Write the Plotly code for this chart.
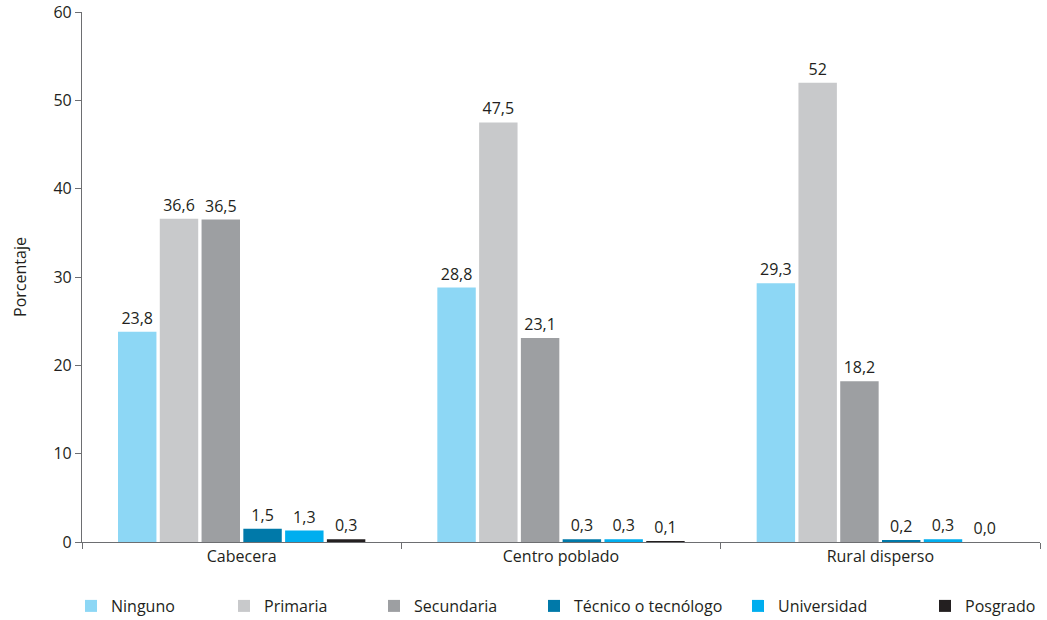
import plotly.graph_objects as go

categories = ["Cabecera", "Centro poblado", "Rural disperso"]
series_names = ["Ninguno", "Primaria", "Secundaria", "Técnico o tecnólogo", "Universidad", "Posgrado"]
ninguno = [23.8, 28.8, 29.3]
primaria = [36.6, 47.5, 52.0]
secundaria = [36.5, 23.1, 18.2]
tecnico = [1.5, 0.3, 0.2]
universidad = [1.3, 0.3, 0.3]
posgrado = [0.3, 0.1, 0.0]
series_values = [ninguno, primaria, secundaria, tecnico, universidad, posgrado]
colors = ["#8DD7F5", "#C8C9CB", "#9D9FA2", "#0079A9", "#00AEEF", "#231F20"]
y_ticks = [0, 10, 20, 30, 40, 50, 60]

def fmt(v):
    if v == int(v) and v >= 10:
        return str(int(v))
    return f"{v:.1f}".replace(".", ",")

# legend symbol left positions in pixels
legend_px = [90, 243, 393, 553, 757, 944]
L, R, T, B = 82, 7, 12, 78
W, H = 1047, 620

fig = go.Figure()
for i, (name, vals, c) in enumerate(zip(series_names, series_values, colors)):
    lg = "legend" if i == 0 else f"legend{i+1}"
    fig.add_trace(go.Bar(
        x=categories, y=vals, name=name, marker_color=c, marker_line_width=0,
        text=[fmt(v) for v in vals], textposition="outside",
        textfont=dict(size=16, color="#231F20"), cliponaxis=False,
        legend=lg, hoverinfo="skip",
    ))

layout_legends = {}
for i, px in enumerate(legend_px):
    key = "legend" if i == 0 else f"legend{i+1}"
    layout_legends[key] = dict(
        xref="container", yref="container",
        x=(px - 19) / W, xanchor="left", y=1 - 606 / H, yanchor="middle",
        orientation="h", font=dict(size=16, color="#231F20"),
        bgcolor="rgba(0,0,0,0)", itemwidth=30, tracegroupgap=0,
    )

fig.update_layout(
    width=W, height=H, barmode="group", bargap=0.215, bargroupgap=0.08,
    margin=dict(l=L, r=R, t=T, b=B, autoexpand=False),
    plot_bgcolor="white", paper_bgcolor="white",
    font=dict(family="Open Sans", size=16, color="#231F20"),
    showlegend=True,
    **layout_legends,
)
fig.update_xaxes(
    showline=True, linecolor="#6D6E71", linewidth=1.2, tickson="boundaries",
    ticks="outside", ticklen=6, tickcolor="#6D6E71", showgrid=False, automargin=False,
    tickfont=dict(size=16, color="#231F20"),
)
fig.update_yaxes(
    range=[0, 60], tickvals=y_ticks, showline=True, linecolor="#6D6E71", linewidth=1.2,
    ticks="outside", ticklen=6, tickcolor="#6D6E71", showgrid=False, zeroline=False,
    automargin=False,
    title=dict(text="Porcentaje", font=dict(size=16), standoff=22),
    tickfont=dict(size=16, color="#231F20"),
)
fig.write_html("out.html", config={"displayModeBar": False},
               post_script="document.body.style.margin='0';")
